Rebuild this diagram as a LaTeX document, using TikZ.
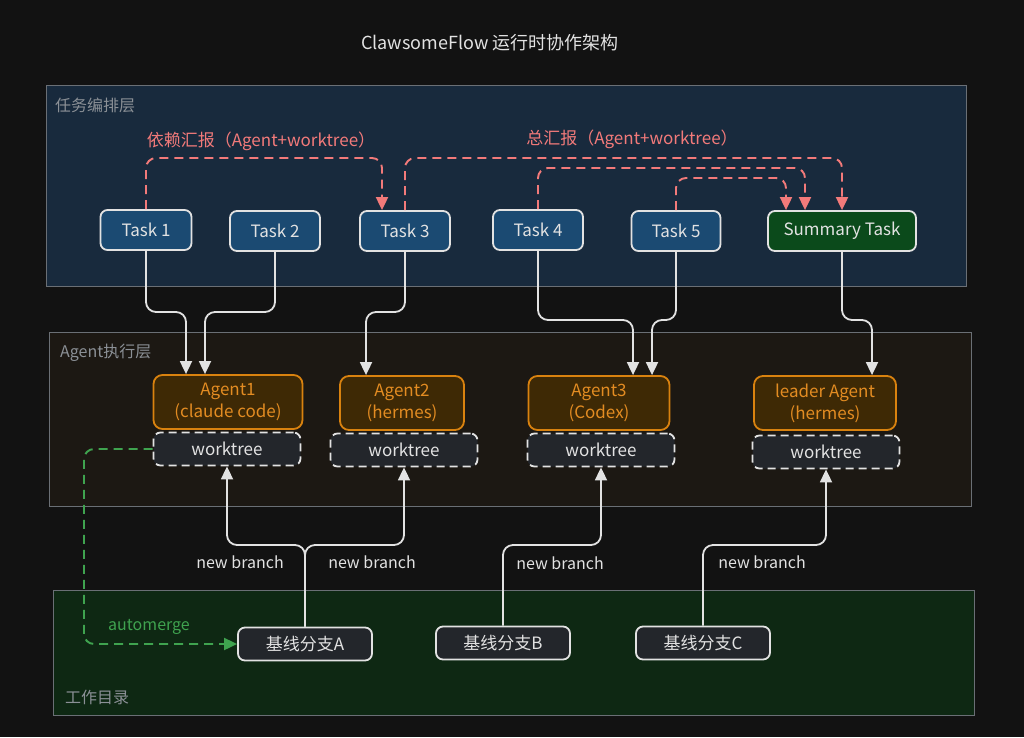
\documentclass[tikz,border=0pt]{standalone}
\usepackage{fontspec}
\setmainfont{Noto Sans CJK SC}
\usetikzlibrary{arrows.meta}
\definecolor{bgc}{HTML}{121212}
\definecolor{tasklayer}{HTML}{182A3D}
\definecolor{agentlayer}{HTML}{1C1813}
\definecolor{worklayer}{HTML}{0E2813}
\definecolor{layerline}{HTML}{6A6F75}
\definecolor{layertext}{HTML}{8B9096}
\definecolor{taskfill}{HTML}{1B4A72}
\definecolor{sumfill}{HTML}{0B4A1B}
\definecolor{agentfill}{HTML}{3E2905}
\definecolor{agentline}{HTML}{D9820F}
\definecolor{agenttext}{HTML}{E38C22}
\definecolor{wtfill}{HTML}{23262B}
\definecolor{fg}{HTML}{E2E2E2}
\definecolor{redc}{HTML}{F27A7A}
\definecolor{greenc}{HTML}{3FA34F}
\begin{document}
\begin{tikzpicture}[x=1pt,y=-1pt,
  every node/.style={font=\fontsize{17}{22}\selectfont, inner sep=0pt},
  layer/.style={draw=layerline, line width=0.8pt, anchor=north west},
  layerlabel/.style={text=layertext, anchor=west, font=\fontsize{16}{20}\selectfont},
  taskbox/.style={draw=fg, line width=1.8pt, rounded corners=7pt, fill=taskfill, text=fg, minimum height=40pt},
  agentbox/.style={draw=agentline, line width=1.8pt, rounded corners=9pt, fill=agentfill, text=agenttext, minimum height=54pt, align=center},
  wtbox/.style={draw=fg, dash pattern=on 8pt off 5pt, line width=1.8pt, rounded corners=7pt, fill=wtfill, text=fg, minimum height=33pt, minimum width=147pt},
  basebox/.style={draw=fg, line width=1.8pt, rounded corners=7pt, fill=wtfill, text=fg, minimum height=33pt, minimum width=134pt},
  wire/.style={draw=fg, line width=1.8pt, rounded corners=10pt},
  warrow/.style={wire, -{Triangle[length=13pt,width=12pt]}},
  rdash/.style={draw=redc, line width=1.9pt, dash pattern=on 9pt off 6pt, rounded corners=10pt, -{Triangle[length=13pt,width=12pt]}},
  gdash/.style={draw=greenc, line width=1.9pt, dash pattern=on 9pt off 6pt, rounded corners=10pt, -{Triangle[length=13pt,width=12pt]}},
  edgelabel/.style={text=fg, font=\fontsize{16}{19}\selectfont}
]
\fill[bgc] (0,0) rectangle (1024,737);
\useasboundingbox (0,0) rectangle (1024,737);

% title
\node[text=fg, font=\fontsize{18}{22}\selectfont] (title) at (490,43) {ClawsomeFlow 运行时协作架构};

% layers
\node[layer, fill=tasklayer, minimum width=920pt, minimum height=201pt] (L1) at (46,85) {};
\node[layerlabel] (L1t) at (55,105) {任务编排层};
\node[layer, fill=agentlayer, minimum width=922pt, minimum height=174pt] (L2) at (49,332) {};
\node[layerlabel] (L2t) at (60,353) {Agent执行层};
\node[layer, fill=worklayer, minimum width=921pt, minimum height=125pt] (L3) at (53,590) {};
\node[layerlabel] (L3t) at (65,697) {工作目录};

% tasks
\node[taskbox, minimum width=91pt] (t1) at (146,230) {Task 1};
\node[taskbox, minimum width=90pt] (t2) at (275,231) {Task 2};
\node[taskbox, minimum width=90pt] (t3) at (405,231) {Task 3};
\node[taskbox, minimum width=90pt] (t4) at (538,230) {Task 4};
\node[taskbox, minimum width=89pt] (t5) at (676,231) {Task 5};
\node[taskbox, fill=sumfill, minimum width=148pt] (ts) at (842,231) {Summary Task};

% agents
\node[agentbox, minimum width=149pt] (a1) at (228,402) {Agent1\\(claude code)};
\node[agentbox, minimum width=124pt] (a2) at (402,403) {Agent2\\(hermes)};
\node[agentbox, minimum width=141pt] (a3) at (599,403) {Agent3\\(Codex)};
\node[agentbox, minimum width=142pt] (a4) at (825,403) {leader Agent\\(hermes)};

% worktrees
\node[wtbox] (w1) at (227,449) {worktree};
\node[wtbox] (w2) at (404,450) {worktree};
\node[wtbox] (w3) at (601,450) {worktree};
\node[wtbox] (w4) at (826,452) {worktree};

% base branches
\node[basebox] (bA) at (305,644) {基线分支A};
\node[basebox] (bB) at (503,643) {基线分支B};
\node[basebox] (bC) at (703,643) {基线分支C};

% task -> agent
\draw[warrow] (t1.south) |- (186,312) -- (186,312 |- a1.north);
\draw[warrow] (t2.south) |- (205,312) -- (205,312 |- a1.north);
\draw[warrow] (t3.south) |- (366,312) -- (366,312 |- a2.north);
\draw[warrow] (t4.south) |- (633,320) -- (633,320 |- a3.north);
\draw[warrow] (t5.south) |- (652,320) -- (652,320 |- a3.north);
\draw[warrow] (ts.south) |- (872,320) -- (872,320 |- a4.north);

% base -> worktree
\draw[warrow] (bA.north) |- (227,545) -- (w1.south);
\draw[warrow] (bA.north) |- (404,545) -- (w2.south);
\draw[warrow] (bB.north) |- (601,545) -- (w3.south);
\draw[warrow] (bC.north) |- (826,545) -- (w4.south);
\node[edgelabel] (nb1) at (240,562) {new branch};
\node[edgelabel] (nb2) at (372,562) {new branch};
\node[edgelabel] (nb3) at (560,563) {new branch};
\node[edgelabel] (nb4) at (762,562) {new branch};

% automerge
\draw[gdash] (w1.west) -| (84,644) -- (bA.west);
\node[text=greenc, font=\fontsize{16}{19}\selectfont] (am) at (149,627) {automerge};

% reports
\draw[rdash] (t1.north) |- (382,158) -- (382,158 |- t3.north);
\draw[rdash] (t3.north) |- (842,158) -- (ts.north);
\draw[rdash] (t4.north) |- (805,168) -- (805,168 |- ts.north);
\draw[rdash] (t5.north) |- (786,178) -- (786,178 |- ts.north);
\node[text=redc] (r1) at (261,141) {依赖汇报（Agent+worktree）};
\node[text=redc] (r2) at (632,139) {总汇报（Agent+worktree）};
\end{tikzpicture}
\end{document}
